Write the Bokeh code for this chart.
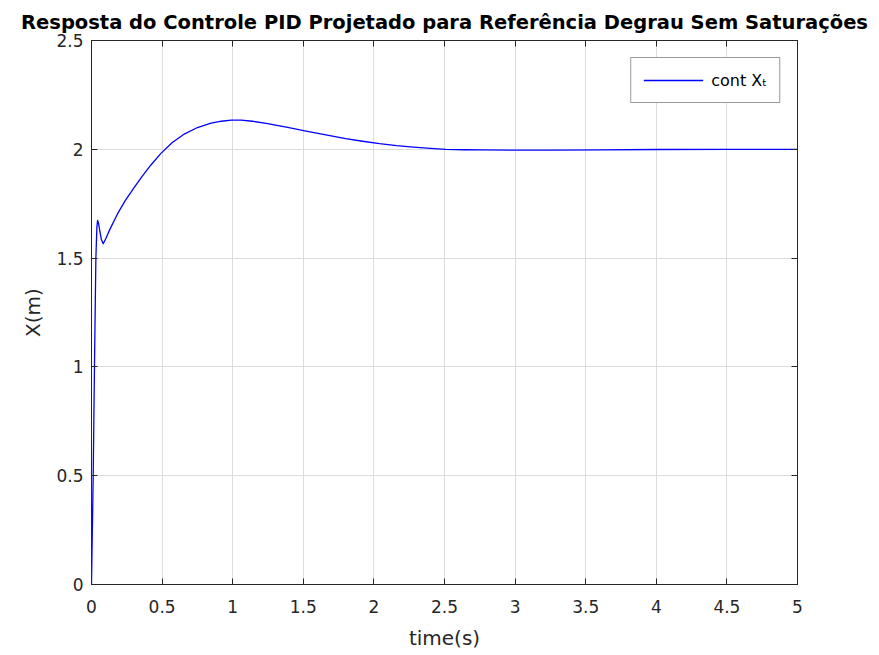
from bokeh.plotting import figure
from bokeh.models import LinearAxis, FixedTicker, Legend, LegendItem
from bokeh.embed import file_html
from bokeh.resources import INLINE

# ---- data ----
time_s = [0, 0.012, 0.021, 0.031, 0.038, 0.043, 0.05, 0.06, 0.07, 0.083, 0.1, 0.13,
          0.184, 0.24, 0.303, 0.36, 0.421, 0.49, 0.57, 0.657, 0.75, 0.847, 0.92,
          0.99, 1.06, 1.14, 1.237, 1.38, 1.52, 1.66, 1.80, 1.92, 2.04, 2.16, 2.28,
          2.40, 2.51, 2.64, 2.77, 3.0, 3.25, 3.6, 4.0, 4.5, 5.0]
x_pos = [0, 0.5, 1.0, 1.5, 1.64, 1.673, 1.66, 1.62, 1.585, 1.566, 1.588, 1.632,
         1.703, 1.765, 1.825, 1.877, 1.928, 1.98, 2.03, 2.07, 2.10, 2.12, 2.129,
         2.134, 2.134, 2.129, 2.119, 2.102, 2.084, 2.066, 2.049, 2.037, 2.026, 2.017,
         2.010, 2.004, 2.0, 1.998, 1.997, 1.996, 1.996, 1.997, 1.999, 2.0, 2.0]
x_ticks = [0, 0.5, 1, 1.5, 2, 2.5, 3, 3.5, 4, 4.5, 5]
y_ticks = [0, 0.5, 1, 1.5, 2, 2.5]
title_text = "Resposta do Controle PID Projetado para Referência Degrau Sem Saturações"
legend_label = "cont X\u209c"

FONT = "DejaVu Sans"
AX = "#262626"

p = figure(width=879, height=655, x_range=(0, 5), y_range=(0, 2.5),
           output_backend="svg", toolbar_location=None,
           min_border_left=91, min_border_right=82,
           min_border_top=40, min_border_bottom=71,
           x_axis_label="time(s)", y_axis_label="X(m)")

p.title.text = title_text
p.title.text_font = FONT
p.title.text_font_size = "19.5px"
p.title.text_font_style = "bold"
p.title.text_color = "black"
p.title.align = "center"
p.title.standoff = 14

p.outline_line_color = AX
p.outline_line_width = 1
p.background_fill_color = "white"
p.border_fill_color = "white"

for ax in p.xaxis + p.yaxis:
    ax.major_tick_in = 6
    ax.major_tick_out = 0
    ax.minor_tick_line_color = None
    ax.axis_line_color = AX
    ax.major_tick_line_color = AX
    ax.major_label_text_font = FONT
    ax.major_label_text_font_size = "17px"
    ax.major_label_text_color = AX
    ax.axis_label_text_font = FONT
    ax.axis_label_text_font_size = "20px"
    ax.axis_label_text_font_style = "normal"
    ax.axis_label_text_color = AX

p.xaxis.ticker = FixedTicker(ticks=x_ticks)
p.yaxis.ticker = FixedTicker(ticks=y_ticks)
p.xaxis.major_label_standoff = 15
p.yaxis.major_label_standoff = 8
p.xaxis.axis_label_standoff = 10
p.yaxis.axis_label_standoff = 8

top = LinearAxis(ticker=FixedTicker(ticks=x_ticks), major_tick_in=6, major_tick_out=0,
                 minor_tick_line_color=None, major_label_text_font_size="0px",
                 axis_line_color=AX, major_tick_line_color=AX)
right = LinearAxis(ticker=FixedTicker(ticks=y_ticks), major_tick_in=6, major_tick_out=0,
                   minor_tick_line_color=None, major_label_text_font_size="0px",
                   axis_line_color=AX, major_tick_line_color=AX)
p.add_layout(top, "above")
p.add_layout(right, "right")

p.xgrid.ticker = FixedTicker(ticks=x_ticks)
p.ygrid.ticker = FixedTicker(ticks=y_ticks)
p.grid.grid_line_color = "#dcdcdc"
p.grid.grid_line_width = 1

r = p.line(time_s, x_pos, line_color="#0000ff", line_width=1.3, line_join="round")

legend = Legend(items=[LegendItem(label=legend_label, renderers=[r])],
                location="top_right", margin=17, padding=12,
                glyph_width=60, glyph_height=20, label_standoff=8,
                label_text_font=FONT, label_text_font_size="16px",
                label_text_color="black",
                border_line_color="#333333", border_line_width=1.2,
                background_fill_color="white", background_fill_alpha=1)
p.add_layout(legend)

open("out.html", "w").write(file_html(p, INLINE))
